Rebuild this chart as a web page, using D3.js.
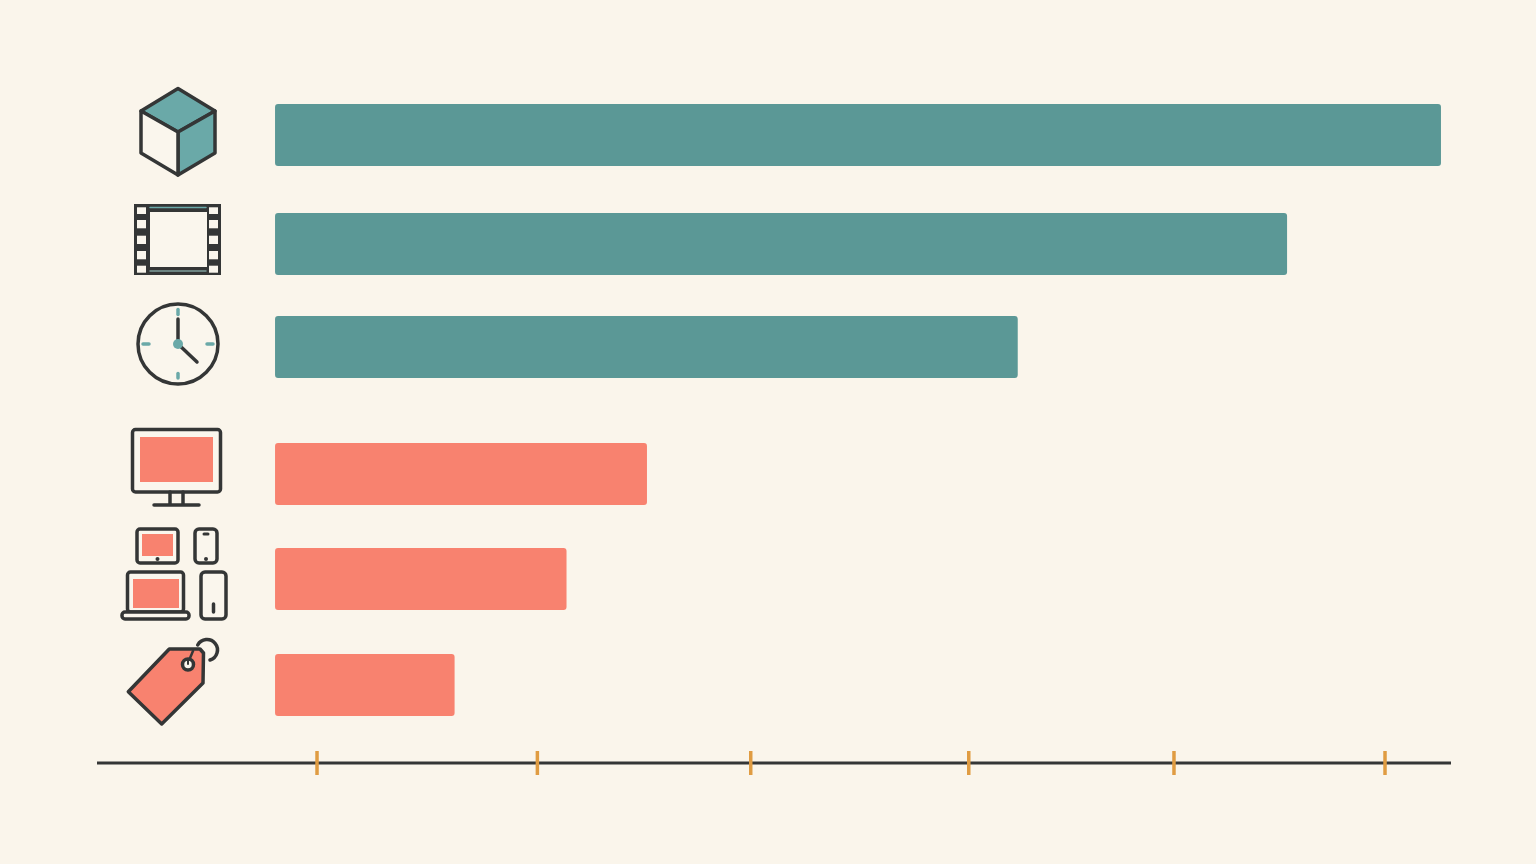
<!DOCTYPE html>
<html>
<head>
<meta charset="utf-8">
<script src="https://cdn.jsdelivr.net/npm/d3@7"></script>
<style>
  html, body { margin: 0; padding: 0; background: #faf5eb; }
  svg { display: block; }
</style>
</head>
<body>
<div id="chart"></div>
<script>
// Data (share of the longest bar, no labels in the source)
var categories = ["cube", "film", "clock", "monitor", "devices", "tag"];
var values = [100, 86.8, 63.7, 31.9, 25.0, 15.4];
var groups = ["teal", "teal", "teal", "salmon", "salmon", "salmon"];
var tickValues = [3.6, 22.5, 40.8, 59.5, 77.1, 95.2];

var svgWidth = 1536;
var svgHeight = 864;
var ink = "#343636";
var paper = "#faf6ed";
var tealBar = "#5b9896";
var tealIcon = "#6aa9a8";
var salmon = "#f8826f";
var tickColor = "#e09c42";

var svg = d3.select("#chart").append("svg")
  .attr("width", svgWidth)
  .attr("height", svgHeight);

svg.append("rect")
  .attr("width", svgWidth)
  .attr("height", svgHeight)
  .attr("fill", "#faf5eb");

// the axis runs further left than the bars, so the domain starts below zero
var x = d3.scaleLinear()
  .domain([-15.27, 100.86])
  .range([97, 1451]);

// rows are not evenly spaced in the reference
var y = d3.scaleOrdinal()
  .domain(categories)
  .range([135, 244, 347, 474, 579, 685]);

var color = d3.scaleOrdinal()
  .domain(["teal", "salmon"])
  .range([tealBar, salmon]);

// Bars
var barHeight = 62;
svg.append("g")
  .selectAll("rect")
  .data(values)
  .enter()
  .append("rect")
    .attr("x", x(0))
    .attr("y", function(d, i) { return y(categories[i]) - barHeight / 2; })
    .attr("width", function(d) { return x(d) - x(0); })
    .attr("height", barHeight)
    .attr("rx", 3)
    .attr("fill", function(d, i) { return color(groups[i]); });

// Axis
var axis = svg.append("g")
  .attr("transform", "translate(0,763)")
  .call(d3.axisBottom(x)
    .offset(0)
    .tickValues(tickValues)
    .tickSizeOuter(0)
    .tickFormat(""));

axis.select(".domain")
  .attr("stroke", ink)
  .attr("stroke-width", 3);

axis.selectAll(".tick line")
  .attr("y1", -12)
  .attr("y2", 12)
  .attr("stroke", tickColor)
  .attr("stroke-width", 3.5);

// Icons, each one drawn around the middle of its row
function outline(sel) {
  return sel.attr("stroke", ink)
    .attr("stroke-width", 3.5)
    .attr("stroke-linejoin", "round")
    .attr("stroke-linecap", "round");
}

function box(g, x0, y0, x1, y1, fill, rx) {
  return g.append("rect")
    .attr("x", x0).attr("y", y0)
    .attr("width", x1 - x0).attr("height", y1 - y0)
    .attr("rx", rx || 0)
    .attr("fill", fill);
}

function poly(g, points, fill) {
  return outline(g.append("path")
    .attr("d", d3.line()(points) + "Z")
    .attr("fill", fill));
}

function seg(g, x0, y0, x1, y1, stroke, width) {
  return g.append("line")
    .attr("x1", x0).attr("y1", y0)
    .attr("x2", x1).attr("y2", y1)
    .attr("stroke", stroke)
    .attr("stroke-width", width)
    .attr("stroke-linecap", "round");
}

var icons = {
  cube: function(g) {
    poly(g, [[0, -46.5], [37, -24], [0, -3], [-37, -24]], tealIcon);
    poly(g, [[37, -24], [37, 18], [0, 40], [0, -3]], tealIcon);
    poly(g, [[-37, -24], [0, -3], [0, 40], [-37, 18]], paper);
  },
  film: function(g) {
    box(g, -44, -40, 43, 31, ink);
    box(g, -28, -32, 29, 23, paper);
    var rows = [[-36.7, -30], [-24, -15.7], [-8.3, 0], [7, 15.3], [21.7, 28.7]];
    rows.forEach(function(r) {
      box(g, -41, r[0], -32, r[1], paper);
      box(g, 31, r[0], 40, r[1], paper);
    });
    seg(g, -28, -36.5, 28, -36.5, tealIcon, 1.5);
    seg(g, -28, 27, 28, 27, "#7f9f9c", 1.5);
  },
  clock: function(g) {
    outline(g.append("circle").attr("cy", -3).attr("r", 40).attr("fill", paper));
    seg(g, 0, -37.5, 0, -32.5, tealIcon, 3.5);
    seg(g, 0, 26.5, 0, 31, tealIcon, 3.5);
    seg(g, -35, -3, -29, -3, tealIcon, 3.5);
    seg(g, 29, -3, 35, -3, tealIcon, 3.5);
    seg(g, 0, -3, 0, -28, ink, 3.5);
    seg(g, 0, -3, 19, 15, ink, 3.5);
    g.append("circle").attr("cy", -3).attr("r", 5).attr("fill", tealIcon);
  },
  monitor: function(g) {
    outline(box(g, -45.5, -44.5, 42.5, 18, paper, 3));
    box(g, -38, -37, 35, 8, salmon);
    seg(g, -8, 18, -8, 30, ink, 3.5);
    seg(g, 5, 18, 5, 30, ink, 3.5);
    seg(g, -24, 31, 21, 31, ink, 3.5);
  },
  devices: function(g) {
    outline(box(g, -41, -50, 0, -16, paper, 3));
    box(g, -36, -45, -5, -23, salmon);
    g.append("circle").attr("cx", -20.5).attr("cy", -20).attr("r", 2).attr("fill", ink);
    outline(box(g, 17, -50, 39, -16, paper, 4));
    seg(g, 26, -45, 30, -45, ink, 3);
    g.append("circle").attr("cx", 28).attr("cy", -20).attr("r", 2).attr("fill", ink);
    outline(box(g, -50.5, -7, 5.5, 33, paper, 3));
    box(g, -45, 0, 1, 29, salmon);
    outline(box(g, -56, 33, 11, 40, paper, 3));
    outline(box(g, 23, -7, 48, 40, paper, 4));
    seg(g, 35.5, 25, 35.5, 33, ink, 3.5);
  },
  tag: function(g) {
    poly(g, [[-8.7, -36], [22, -36], [25.5, -32], [25, -2], [-16.3, 39], [-49.7, 6.7]], salmon);
    seg(g, 9.5, -21, 15, -34, ink, 2.5);
    outline(g.append("circle").attr("cx", 10).attr("cy", -20.5).attr("r", 5.5).attr("fill", paper));
    seg(g, 10, -25, 10, -21, ink, 2);
    outline(g.append("path")
      .attr("d", "M19.7,-40A10.5,10.5 0 1 1 32,-25")
      .attr("fill", "none"));
  }
};

svg.append("g")
  .selectAll("g")
  .data(categories)
  .enter()
  .append("g")
    .attr("transform", function(d) { return "translate(178," + y(d) + ")"; })
    .each(function(d) { icons[d](d3.select(this)); });
</script>
</body>
</html>
